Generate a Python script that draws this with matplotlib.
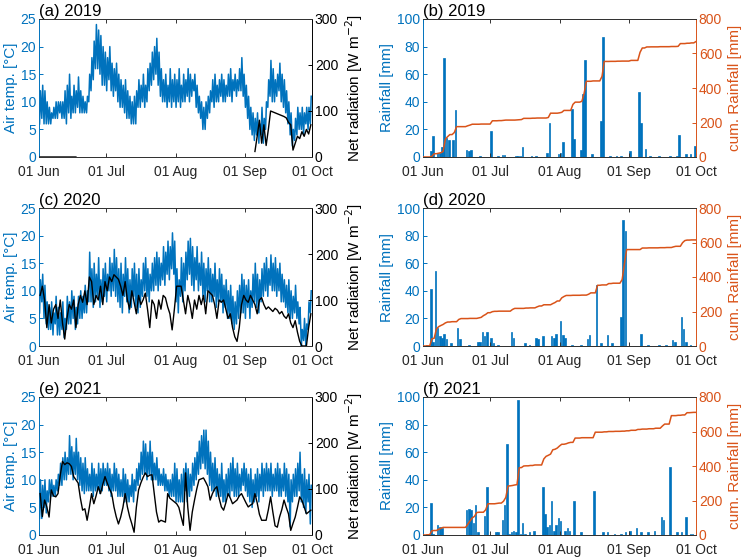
import numpy as np
import matplotlib
matplotlib.use("Agg")
import matplotlib.pyplot as plt

plt.rcParams['font.family'] = ['Liberation Sans', 'DejaVu Sans']

BLUE = '#0072BD'
ORANGE = '#D95319'
AXC = '#333333'

years = ['2019', '2020', '2021']
letters_left = ['(a)', '(c)', '(e)']
letters_right = ['(b)', '(d)', '(f)']
month_ticks = [0, 30, 61, 92, 122]
month_labels = ['01 Jun', '01 Jul', '01 Aug', '01 Sep', '01 Oct']

# ---- daily max / min air temperature (Jun 1 .. Sep 30) ----
tmax_2019 = [12,13,12,10,9,8,9,10,10,10,10,12,13,15,11,13,12,14.5,12,11,10,11,15,18,21,24,23,22,20,19,
             18,20,17,16,17,15,14,13,14,12,11,10,11,12,14,13,15,13,16,17,19,20,21.5,19,16,14,15,13,16,14,15,
             14,16,13,15,14,16,15,14,15,13,11,10,9,10,11,12,14,15,13,14,15,14,13,15,16,14,15,14,16,18,15,
             13,11,9,8,7,8,6,9,7,10,14,17.5,16,14,15,17,15,14,12,10,8,5,7,9,8,9,8,9,9,11]
tmin_2019 = [6,7,6,6,6,6,7,7,7,8,7,7,6,8,7,8,8,9,8,8,8,8,10,12,14,16,16,15,13,13,
             12,14,12,11,12,10,9,9,8,7,7,6,6,6,9,9,10,9,10,12,13,14,15,13,11,10,10,9,10,9,10,
             9,10,9,10,10,11,10,11,12,9,8,7,5,5,7,8,10,9,10,10,11,10,10,11,11,10,12,11,12,12,11,
             9,7,5,4,3,4,2.5,4,2.5,5,9,11,10,10,11,12,10,9,8,6,4,2,3,4,5,5,4,6,5,6]

tmax_2020 = [12,13,11,8,7,8,6,9,7,6,8,5,9,8,10,9,7,9,10,9,11,10,17,14,15,13,16,12,14,15,
             13,16,15,17.5,16,14,15,13,16,14,12,14,15,13,14,12,15,16,14,13,15,16,17,16,15,18,17,19,18,20.5,19,
             14,12,16,15,17,19,19.5,18,16,18,15,17,15,14,16,14,13,15,12,14,13,11,12,10,11,9,8,10,11,13,12,
             11,12,10,13,15,13,12,14,15,16,14,16.5,15,16,14,15,13,12,11,12,10,9,11,8,7,3,5,4,8,10]
tmin_2020 = [6,8,5,4,3,3,2,4,2,2,3,1.5,3,4,4,5,3,4,5,5,6,6,8,8,7,8,9,7,8,9,
             8,10,9,10,9,8,7,6,9,8,6,7,9,7,6,7,9,10,9,8,10,10,11,10,11,12,11,13,12,14,13,
             8,6,9,8,10,12,13,11,10,12,10,11,9,8,10,8,8,9,7,8,8,6,7,5,5,4,3,4,5,6,6,
             5,7,5,7,8,7,6,8,9,10,9,11,10,10,9,10,8,8,7,6,5,5,6,5,4,0,1,0,3,6]

tmax_2021 = [10,9,10,8,10,10,9,10,11,13,14,15,14,18,16,15,17.5,15,14,13,14,12,11,13,12,11,13,12,13,12,
             13,12,11,13,12,11,10,12,11,10,9,11,10,12,13,15,17,16.5,15,17,15,13,14,12,11,12,11,10,10,11,13,
             12,10,11,12,13,12,11,13,14,15,17,18,19,19,17,15,13,14,12,11,13,10,11,12,13,14,12,13,11,12,13,
             12,11,12,10,11,12,11,13,12,13,12,13,11,12,13,12,11,13,12,11,10,11,12,13,15,11,12,10,11,9]
tmin_2021 = [3,3,5,4,6,7,7,7,8,9,9,10,10,11,11,10,11,10,9,8,7.5,8,8,8,7,8,8,7.5,8,9,
             9,8,7,8,8,7,7,7,6,6,6,7,6,8,9,10,11,11,10,11,10,10,10,9,9,9,8,8,7,7,7,
             6,6,6,6,8,6,7,8,9,10,11,12,13,12,11,9,8,8,7,7,7,6,6,7,7,8,7,7,7,8,9,
             8,7,6,5,6,7,6,8,7,8,8,8,7,8,8,7,7,8,7,6,1.5,6,7,7,8,6,5,4,6,2]

# ---- daily net radiation [W m-2] (None = missing) ----
nr_2019 = [0]*17 + [None]*79 + [12,45,80,30,70,25,60,100,98,96,94,92,90,88,85,75,70,15,30,45,40,55,45,60,50,70]
nr_2020 = [110,130,100,40,90,50,80,90,60,100,50,15,60,90,80,100,40,90,110,95,120,90,150,140,90,110,100,130,90,140,
           120,150,140,155,150,145,130,110,140,100,80,120,95,70,110,90,100,115,80,40,100,90,60,100,80,110,105,85,70,35,80,
           130,130,130,100,70,110,90,60,100,80,110,90,110,70,120,115,110,90,60,100,95,100,80,60,70,40,20,10,40,90,110,
           100,95,110,100,90,70,100,105,90,80,85,80,75,82,78,70,75,65,60,70,50,40,55,30,10,0,0,0,40,70]
nr_2021 = [90,40,76,61,39,98,85,83,90,130,160,153,157,155,149,127,120,113,80,54,57,32,60,90,68,85,105,90,110,127,
           113,100,90,61,40,24,39,60,90,61,40,24,6,60,98,113,125,135,127,130,131,90,50,28,32,30,28,90,80,76,72,
           68,60,40,21,135,60,10,50,76,100,120,122,124,115,105,76,90,100,105,80,61,54,70,90,80,68,72,76,85,90,
           80,70,61,65,68,90,70,45,32,32,32,55,83,50,20,17,39,55,76,60,46,10,25,39,60,83,75,61,46,50,54]

# ---- daily rainfall [mm] as {day index: amount} ----
rain_2019 = {3: 4, 4: 15, 6: 3, 7: 3, 8: 7, 9: 72, 10: 14, 11: 12, 13: 12, 14: 34, 19: 5, 20: 4, 21: 5,
             25: 1, 30: 19, 33: 1, 35: 1.5, 36: 1.5, 41: 1, 42: 1, 43: 1, 44: 7, 48: 1, 50: 1, 55: 3, 56: 25,
             60: 2, 61: 3, 62: 11, 66: 35, 67: 13, 70: 5, 71: 46, 72: 70, 75: 2, 79: 26, 80: 87, 83: 0.5,
             86: 1, 88: 0.5, 92: 4, 96: 47, 97: 25, 99: 6, 101: 0.5, 105: 1, 110: 1, 113: 1, 114: 16,
             117: 2, 119: 2, 121: 8}
rain_2020 = {1: 1, 3: 41, 4: 3, 5: 54, 6: 13, 7: 7, 8: 6, 9: 9, 10: 5, 12: 2, 15: 13, 16: 5, 20: 1,
             24: 3, 25: 3, 26: 10, 27: 7, 28: 10, 30: 6, 31: 2, 33: 1, 39: 10, 40: 6, 45: 2, 47: 1,
             50: 6, 51: 5, 53: 7, 57: 7, 58: 6, 59: 9, 61: 18, 62: 8, 63: 6, 66: 1, 70: 1, 73: 5, 74: 8,
             77: 44, 79: 2, 82: 8, 84: 2, 88: 21, 89: 91, 90: 83, 97: 9, 100: 1, 105: 1, 108: 1,
             111: 4, 112: 3, 115: 21, 116: 12, 117: 3, 119: 1}
rain_2021 = {1: 1, 2: 1, 3: 23, 4: 1, 6: 7, 7: 6, 8: 5, 19: 18, 20: 19, 21: 18, 22: 9, 23: 22, 24: 2,
             27: 14, 28: 35, 32: 2, 33: 2, 35: 11, 36: 22, 37: 66, 38: 1, 39: 2, 40: 3, 41: 2, 42: 98,
             43: 1, 44: 9, 45: 1, 47: 2, 49: 3, 53: 35, 54: 15, 55: 6, 56: 7, 57: 25, 58: 3, 59: 7,
             60: 12, 61: 10, 63: 3, 64: 5, 65: 3, 67: 25, 70: 2, 76: 32, 80: 2, 82: 2, 85: 1, 88: 1,
             90: 2, 92: 3, 95: 5, 97: 2, 100: 2, 103: 3, 106: 13, 107: 11, 110: 49, 113: 2, 115: 2,
             117: 13, 119: 1, 120: 1}

tmax_all = [tmax_2019, tmax_2020, tmax_2021]
tmin_all = [tmin_2019, tmin_2020, tmin_2021]
nr_all = [nr_2019, nr_2020, nr_2021]
rain_all = [rain_2019, rain_2020, rain_2021]

NDAYS = 122
fig = plt.figure(figsize=(7.45, 5.58), dpi=100)

bottoms = [1 - 157/558, 1 - 346/558, 1 - 535/558]
h = 138/558
lefts = [39/745, 423/745]
w = 273/745

TICK_FS = 10
LAB_FS = 11
TIT_FS = 12


def style(ax, ax2, lcol, rcol):
    for a in (ax, ax2):
        a.set_xlim(0, NDAYS)
        a.tick_params(direction='in', length=3, width=0.7)
    ax.spines['left'].set_color(lcol)
    ax.spines['right'].set_visible(False)
    ax2.spines['left'].set_visible(False)
    ax2.spines['right'].set_color(rcol)
    for a in (ax, ax2):
        a.spines['top'].set_color(AXC)
        a.spines['bottom'].set_color(AXC)
        for s in a.spines.values():
            s.set_linewidth(0.7)
    ax.tick_params(axis='y', colors=lcol, labelsize=TICK_FS, pad=2)
    ax2.tick_params(axis='y', colors=rcol, labelsize=TICK_FS, pad=2)
    ax.tick_params(axis='x', colors=AXC, labelsize=TICK_FS, top=True, pad=6)
    ax.set_xticks(month_ticks)
    ax.set_xticklabels(month_labels)
    ax.tick_params(axis='x', labelcolor='#262626')


for r in range(3):
    days = np.arange(NDAYS)
    # --- left: air temperature + net radiation ---
    ax = fig.add_axes([lefts[0], bottoms[r], w, h])
    ax2 = ax.twinx()
    tmin = np.array(tmin_all[r], dtype=float)
    tmax = np.array(tmax_all[r], dtype=float)
    t = np.empty(2 * NDAYS)
    v = np.empty(2 * NDAYS)
    t[0::2] = days + 0.25
    t[1::2] = days + 0.65
    v[0::2] = tmin
    v[1::2] = tmax
    ax.plot(t, v, color=BLUE, lw=1.1)
    ax.set_ylim(0, 25)
    ax.set_yticks([0, 5, 10, 15, 20, 25])
    nr = np.array([np.nan if x is None else x for x in nr_all[r]], dtype=float)
    ax2.plot(days + 0.5, nr, color='black', lw=1.0)
    ax2.set_ylim(0, 300)
    ax2.set_yticks([0, 100, 200, 300])
    style(ax, ax2, BLUE, 'black')
    ax.set_ylabel('Air temp. [°C]', color=BLUE, fontsize=LAB_FS, labelpad=2)
    ax2.set_ylabel('Net radiation [W m$^{-2}$]', color='black', fontsize=LAB_FS, labelpad=4)
    ax.set_title(f'{letters_left[r]} {years[r]}', loc='left', fontsize=TIT_FS, pad=2, x=0.0)

    # --- right: rainfall + cumulative ---
    bx = fig.add_axes([lefts[1], bottoms[r], w, h])
    bx2 = bx.twinx()
    rain = np.zeros(NDAYS)
    for d, amt in rain_all[r].items():
        rain[d] = amt
    bx.bar(days + 0.5, rain, width=0.7, color=BLUE, edgecolor=BLUE, linewidth=0.5)
    bx.set_ylim(0, 100)
    bx.set_yticks([0, 20, 40, 60, 80, 100])
    cum = np.concatenate([[0], np.cumsum(rain)])
    bx2.plot(np.arange(NDAYS + 1), cum, color=ORANGE, lw=1.1)
    bx2.set_ylim(0, 800)
    bx2.set_yticks([0, 200, 400, 600, 800])
    style(bx, bx2, BLUE, ORANGE)
    bx.set_ylabel('Rainfall [mm]', color=BLUE, fontsize=LAB_FS, labelpad=2)
    bx2.set_ylabel('cum. Rainfall [mm]', color=ORANGE, fontsize=LAB_FS, labelpad=4)
    bx.set_title(f'{letters_right[r]} {years[r]}', loc='left', fontsize=TIT_FS, pad=2, x=0.0)

fig.savefig('out.png', dpi=100)
